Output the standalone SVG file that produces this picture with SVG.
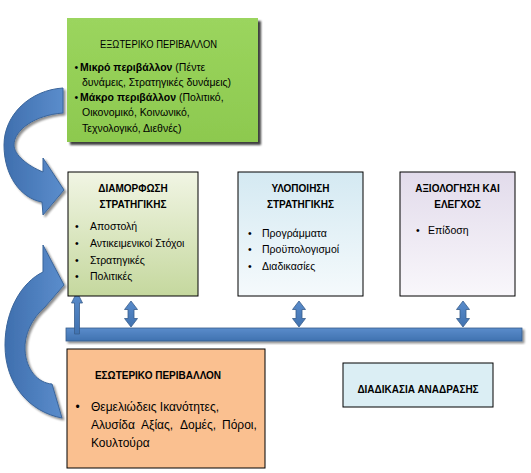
<svg xmlns="http://www.w3.org/2000/svg" width="531" height="473" viewBox="0 0 531 473">
<style>
.t{font-family:"Liberation Sans",Arial,sans-serif;font-size:10.5px;fill:#000}
.b{font-weight:bold}
.h{font-family:"Liberation Sans",Arial,sans-serif;font-size:10px;font-weight:bold;text-anchor:middle;fill:#000}
.box{stroke:#000;stroke-width:1}
.arr{fill:url(#gBlue);stroke:#385d8a;stroke-width:0.8}
.curve{fill:url(#gCurve);stroke:#3a659b;stroke-width:1}
.big{font-size:12px}
</style>
<defs>
<linearGradient id="gBlue" x1="0" y1="0" x2="0" y2="1"><stop offset="0" stop-color="#5a8ccb"/><stop offset="1" stop-color="#4072b0"/></linearGradient>
<linearGradient id="gCurve" x1="0" y1="0" x2="1" y2="0"><stop offset="0" stop-color="#3f6fae"/><stop offset="1" stop-color="#5b8dcc"/></linearGradient>
<linearGradient id="gForm" x1="0" y1="0" x2="0" y2="1"><stop offset="0" stop-color="#f1f5e4"/><stop offset="1" stop-color="#c5d89e"/></linearGradient>
<linearGradient id="gImpl" x1="0" y1="0" x2="0" y2="1"><stop offset="0" stop-color="#d4e9f2"/><stop offset="1" stop-color="#f5fafc"/></linearGradient>
<linearGradient id="gEval" x1="0" y1="0" x2="0" y2="1"><stop offset="0" stop-color="#e2dbeb"/><stop offset="1" stop-color="#f9f7fb"/></linearGradient>
<linearGradient id="gGreen" x1="0" y1="0" x2="0" y2="1"><stop offset="0" stop-color="#9bd55e"/><stop offset="1" stop-color="#8dc94f"/></linearGradient>
<filter id="sh" x="-10%" y="-10%" width="130%" height="140%">
<feGaussianBlur in="SourceAlpha" stdDeviation="1" result="blur"/>
<feOffset in="blur" dx="2" dy="2" result="off"/>
<feComponentTransfer in="off" result="s"><feFuncA type="linear" slope="0.45"/></feComponentTransfer>
<feMerge><feMergeNode in="s"/><feMergeNode in="SourceGraphic"/></feMerge>
</filter>
<filter id="shG" x="-10%" y="-10%" width="130%" height="130%">
<feGaussianBlur in="SourceAlpha" stdDeviation="1.2" result="blur"/>
<feOffset in="blur" dx="3" dy="3" result="off"/>
<feComponentTransfer in="off" result="s"><feFuncA type="linear" slope="0.75"/></feComponentTransfer>
<feMerge><feMergeNode in="s"/><feMergeNode in="SourceGraphic"/></feMerge>
</filter>
<path id="dbl" d="M0,0 L6.5,8.5 L3,8.5 L3,17.5 L6.5,17.5 L0,26 L-6.5,17.5 L-3,17.5 L-3,8.5 L-6.5,8.5 Z"/>
</defs>

<rect width="531" height="473" fill="#fff"/>

<g id="connectors">
<path class="curve" filter="url(#sh)" d="M63,88 C30,90 4,115 4,145 C4,175 20,198 42,202 L43,215 L64,190 L43,158 L43,172 C28,166 14,155 14,145 C14,130 35,115 63,113 Z"/>
<path class="curve" filter="url(#sh)" d="M62,418 C30,412 5,385 5,345 C5,310 22,282 43,272 L43,245 L64,285 L45,307 C32,318 24,335 25,350 C26,370 38,383 52,384 Z"/>
<rect class="arr" filter="url(#sh)" x="66" y="328" width="456" height="13"/>
<path class="arr" d="M77,292 L82.5,303 L79.5,303 L79.5,334 L74.5,334 L74.5,303 L71.5,303 Z"/>
<use href="#dbl" class="arr" x="131" y="301"/>
<use href="#dbl" class="arr" x="299" y="301"/>
<use href="#dbl" class="arr" x="463" y="301"/>
</g>

<g id="external">
<rect x="67" y="18" width="191" height="124" fill="url(#gGreen)" filter="url(#shG)"/>
<text class="t" x="158.5" y="48" text-anchor="middle" font-size="11" textLength="117" lengthAdjust="spacingAndGlyphs">ΕΞΩΤΕΡΙΚΟ ΠΕΡΙΒΑΛΛΟΝ</text>
<text class="t" x="74.5" y="71">•</text>
<text class="t" x="80" y="71"><tspan class="b">Μικρό περιβάλλον</tspan> (Πέντε</text>
<text class="t" x="82" y="86">δυνάμεις, Στρατηγικές δυνάμεις)</text>
<text class="t" x="74.5" y="101">•</text>
<text class="t" x="80" y="101"><tspan class="b">Μάκρο περιβάλλον</tspan> (Πολιτικό,</text>
<text class="t" x="82" y="116">Οικονομικό, Κοινωνικό,</text>
<text class="t" x="82" y="132">Τεχνολογικό, Διεθνές)</text>
</g>

<g id="formulation">
<rect class="box" x="68" y="172" width="130" height="124" fill="url(#gForm)"/>
<text class="h" x="133" y="191.5">ΔΙΑΜΟΡΦΩΣΗ</text>
<text class="h" x="133" y="208">ΣΤΡΑΤΗΓΙΚΗΣ</text>
<text class="t" x="75" y="230">•</text><text class="t" x="90" y="230">Αποστολή</text>
<text class="t" x="75" y="247">•</text><text class="t" x="90" y="247">Αντικειμενικοί Στόχοι</text>
<text class="t" x="75" y="263.5">•</text><text class="t" x="90" y="263.5">Στρατηγικές</text>
<text class="t" x="75" y="280">•</text><text class="t" x="90" y="280">Πολιτικές</text>
</g>

<g id="implementation">
<rect class="box" x="238" y="172" width="125" height="124" fill="url(#gImpl)"/>
<text class="h" x="300.5" y="191.5">ΥΛΟΠΟΙΗΣΗ</text>
<text class="h" x="300.5" y="208">ΣΤΡΑΤΗΓΙΚΗΣ</text>
<text class="t" x="248" y="236.5">•</text><text class="t" x="262" y="236.5">Προγράμματα</text>
<text class="t" x="248" y="252.5">•</text><text class="t" x="262" y="252.5">Προϋπολογισμοί</text>
<text class="t" x="248" y="269.5">•</text><text class="t" x="262" y="269.5">Διαδικασίες</text>
</g>

<g id="evaluation">
<rect class="box" x="400" y="172" width="115" height="124" fill="url(#gEval)"/>
<text class="h" x="457.5" y="191.5">ΑΞΙΟΛΟΓΗΣΗ ΚΑΙ</text>
<text class="h" x="457.5" y="208">ΕΛΕΓΧΟΣ</text>
<text class="t" x="416" y="233.5">•</text><text class="t" x="428" y="233.5">Επίδοση</text>
</g>

<g id="internal">
<rect class="box" x="67" y="349" width="198" height="119" fill="#fac090"/>
<text class="h" x="158" y="378.5">ΕΣΩΤΕΡΙΚΟ ΠΕΡΙΒΑΛΛΟΝ</text>
<text class="t big" x="75.5" y="410.5">•</text><text class="t big" x="91" y="410.5">Θεμελιώδεις Ικανότητες,</text>
<text class="t big" y="429"><tspan x="91">Αλυσίδα</tspan><tspan x="141">Αξίας,</tspan><tspan x="180">Δομές,</tspan><tspan x="222">Πόροι,</tspan></text>
<text class="t big" x="91" y="446.5">Κουλτούρα</text>
</g>

<g id="feedback">
<rect class="box" x="343" y="363" width="150" height="44" fill="#dbeef4"/>
<text class="h" x="418" y="392.5">ΔΙΑΔΙΚΑΣΙΑ ΑΝΑΔΡΑΣΗΣ</text>
</g>
</svg>
